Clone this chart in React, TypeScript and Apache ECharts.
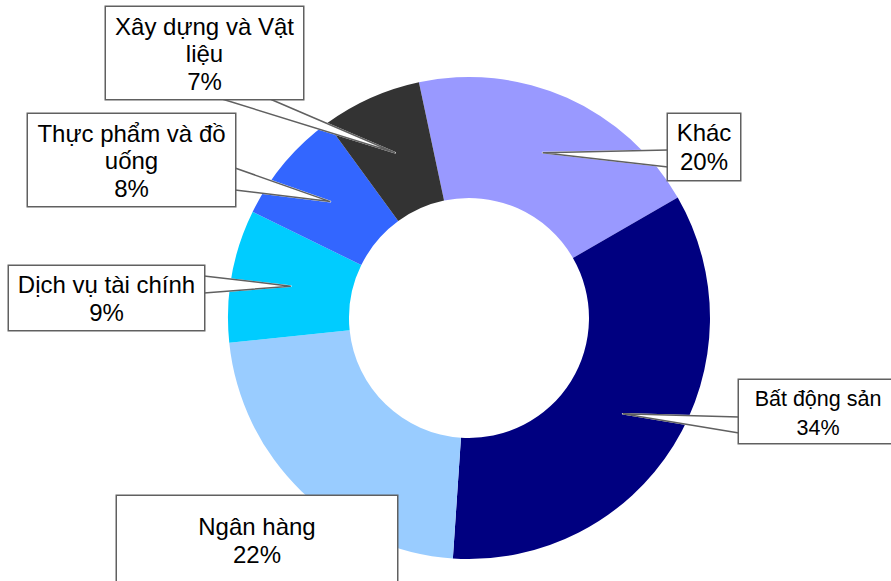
import { useEffect, useRef } from 'react';
import * as echarts from 'echarts';

// ---- data ----
const categories = [
  'Khác',
  'Bất động sản',
  'Ngân hàng',
  'Dịch vụ tài chính',
  'Thực phẩm và đồ uống',
  'Xây dựng và Vật liệu',
];
const shares = [20.0, 34.4, 22.3, 8.9, 7.7, 6.7];
const sliceColors = ['#9999FF', '#000080', '#99CCFF', '#00CCFF', '#3366FF', '#333333'];

// ---- callout layout (positions / sizes of the label boxes) ----
type Box = {
  left: number; top: number; w: number; h: number;
  fs: number; lh: number; lines: number; pt: number; px: number;
  wrapWords: number;
  side: 'left' | 'right' | 'bottom' | 'none'; b0: number; b1: number;
};
const labelBoxes: Box[] = [
  { left: 668, top: 114, w: 72, h: 66, fs: 24, lh: 28.5, lines: 2, pt: 4.5, px: 7, wrapWords: 0, side: 'left', b0: 36, b1: 53 },
  { left: 739, top: 380, w: 158, h: 63, fs: 21.5, lh: 29.5, lines: 2, pt: 4, px: 8, wrapWords: 0, side: 'left', b0: 37, b1: 53 },
  { left: 117, top: 496, w: 280, h: 100, fs: 24, lh: 28.3, lines: 2, pt: 16.5, px: 10, wrapWords: 0, side: 'none', b0: 0, b1: 0 },
  { left: 9, top: 266, w: 195, h: 64, fs: 24, lh: 27.5, lines: 2, pt: 5.2, px: 6, wrapWords: 0, side: 'right', b0: 10, b1: 27 },
  { left: 28, top: 114, w: 207, h: 92, fs: 24, lh: 27.5, lines: 3, pt: 5.6, px: 6, wrapWords: 4, side: 'right', b0: 54, b1: 76 },
  { left: 106, top: 7, w: 197, h: 92, fs: 24, lh: 27.2, lines: 3, pt: 6, px: 6, wrapWords: 4, side: 'bottom', b0: 116, b1: 164 },
];

const FONT = '"Liberation Sans", Arial, Helvetica, sans-serif';
const CENTER = [469, 318];
const TIP_RADIUS = 181;

function wrapName(name: string, n: number): string {
  if (!n) return name;
  const words = name.split(' ');
  if (words.length <= n) return name;
  return words.slice(0, n).join(' ') + '\n' + words.slice(n).join(' ');
}

function baseEnds(b: Box): [number[], number[]] {
  if (b.side === 'left') return [[b.left, b.top + b.b0], [b.left, b.top + b.b1]];
  if (b.side === 'right') return [[b.left + b.w, b.top + b.b0], [b.left + b.w, b.top + b.b1]];
  return [[b.left + b.b0, b.top + b.h], [b.left + b.b1, b.top + b.h]];
}

export default function App() {
  const ref = useRef<HTMLDivElement>(null);

  useEffect(() => {
    if (!ref.current) return;
    const chart = echarts.init(ref.current, undefined, { renderer: 'svg' });

    const ringData = categories.map((name, i) => ({
      name,
      value: shares[i],
      itemStyle: { color: sliceColors[i] },
    }));

    const labelData = categories.map((name, i) => {
      const b = labelBoxes[i];
      const pb = Math.max(0, b.h - b.pt - b.lines * b.lh);
      return {
        name,
        value: shares[i],
        label: {
          fontSize: b.fs,
          lineHeight: b.lh,
          width: b.w - 2 * b.px,
          padding: [b.pt, b.px, pb, b.px],
        },
        labelLine: { show: b.side !== 'none' },
      };
    });

    const wedgeData = categories.map((name, i) => ({
      name,
      value: shares[i],
      labelLine: { show: labelBoxes[i].side !== 'none' },
    }));

    const layoutBase = (p: any) => {
      const b = labelBoxes[p.dataIndex];
      return {
        x: b.left + b.w / 2,
        y: b.top,
        align: 'center',
        verticalAlign: 'top',
        width: b.w - 2 * b.px,
        fontSize: b.fs,
      } as any;
    };

    const option: any = {
      animation: false,
      series: [
        // visible donut ring
        {
          type: 'pie',
          z: 2,
          silent: true,
          center: CENTER,
          radius: [120, 241],
          startAngle: 102,
          clockwise: true,
          avoidLabelOverlap: false,
          itemStyle: { borderWidth: 0 },
          label: { show: false },
          labelLine: { show: false },
          emphasis: { disabled: true },
          data: ringData,
        },
        // white interior of callout wedges
        {
          type: 'pie',
          z: 4,
          silent: true,
          center: CENTER,
          radius: [0, TIP_RADIUS],
          startAngle: 102,
          clockwise: true,
          avoidLabelOverlap: false,
          minShowLabelAngle: 0,
          itemStyle: { color: 'rgba(0,0,0,0)', borderWidth: 0 },
          emphasis: { disabled: true },
          label: {
            show: true,
            position: 'outside',
            color: 'rgba(0,0,0,0)',
            fontSize: 4,
            formatter: () => ' ',
          },
          labelLine: {
            show: true,
            length: 0,
            length2: 0,
            smooth: false,
            lineStyle: { color: '#ffffff', width: 1.6, join: 'round', cap: 'round' },
          },
          labelLayout: (p: any) => {
            const b = labelBoxes[p.dataIndex];
            const res = layoutBase(p);
            res.fontSize = 4;
            const pts = p.labelLinePoints;
            if (pts && pts.length && b.side !== 'none') {
              const tip = [pts[0][0], pts[0][1]];
              const [p0, p1] = baseEnds(b);
              const len = Math.hypot(p1[0] - p0[0], p1[1] - p0[1]);
              const n = Math.max(2, Math.ceil(len));
              const fan: number[][] = [];
              for (let k = 0; k <= n; k++) {
                const t = k / n;
                fan.push(tip);
                fan.push([p0[0] + (p1[0] - p0[0]) * t, p0[1] + (p1[1] - p0[1]) * t]);
              }
              res.labelLinePoints = fan;
            }
            return res;
          },
          data: wedgeData,
        },
        // callout boxes, texts and wedge outlines
        {
          type: 'pie',
          z: 5,
          silent: true,
          center: CENTER,
          radius: [0, TIP_RADIUS],
          startAngle: 102,
          clockwise: true,
          avoidLabelOverlap: false,
          minShowLabelAngle: 0,
          itemStyle: { color: 'rgba(0,0,0,0)', borderWidth: 0 },
          emphasis: { disabled: true },
          label: {
            show: true,
            position: 'outside',
            color: '#000',
            fontFamily: FONT,
            backgroundColor: '#ffffff',
            borderColor: '#606060',
            borderWidth: 1.5,
            overflow: 'none',
            formatter: (p: any) =>
              `${wrapName(p.name, labelBoxes[p.dataIndex].wrapWords)}\n${Math.round(p.percent)}%`,
          },
          labelLine: {
            show: true,
            length: 0,
            length2: 0,
            smooth: false,
            lineStyle: { color: '#606060', width: 1.5 },
          },
          labelLayout: (p: any) => {
            const b = labelBoxes[p.dataIndex];
            const res = layoutBase(p);
            const pts = p.labelLinePoints;
            if (pts && pts.length && b.side !== 'none') {
              const tip = [pts[0][0], pts[0][1]];
              const [p0, p1] = baseEnds(b);
              res.labelLinePoints = [p0, tip, p1];
            }
            return res;
          },
          data: labelData,
        },
      ],
    };

    chart.setOption(option);
    return () => chart.dispose();
  }, []);

  return (
    <div
      ref={ref}
      style={{ position: 'absolute', left: 0, top: 0, width: 891, height: 581, background: '#fff' }}
    />
  );
}
